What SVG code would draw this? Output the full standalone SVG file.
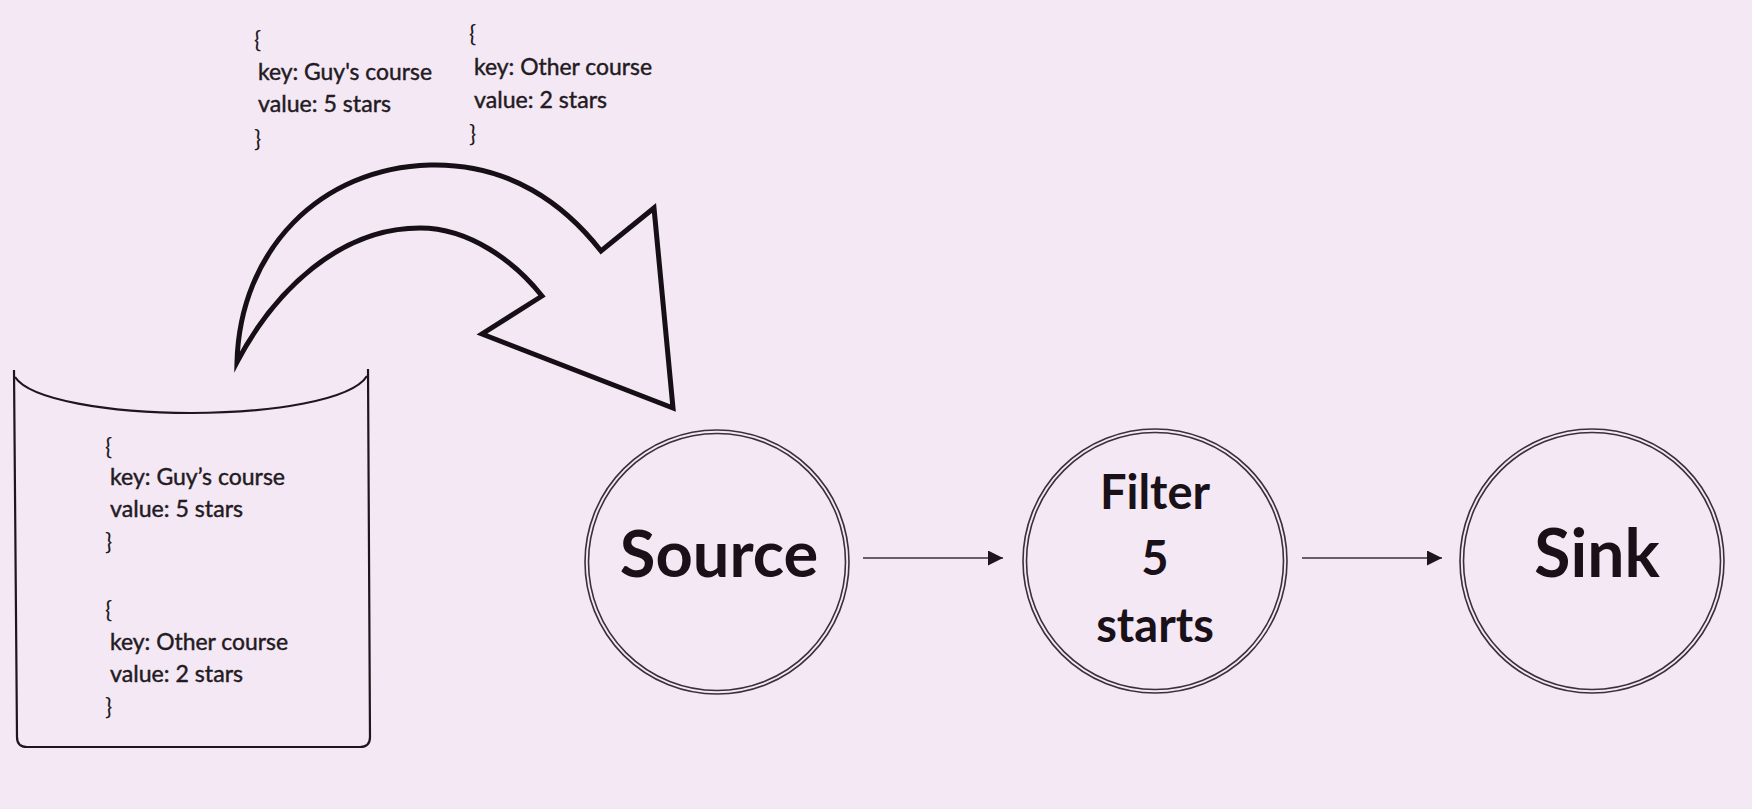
<svg xmlns="http://www.w3.org/2000/svg" width="1752" height="809" viewBox="0 0 1752 809">
  <style>
    .bg { fill: #f3e8f4; }
    .ring { fill: none; stroke: #3a3038; stroke-width: 1.6; }
    .node-label { font-family: Lato, "Open Sans", sans-serif; font-weight: 700; fill: #1a1018; text-anchor: middle; }
    .rec { font-family: Lato, "Open Sans", sans-serif; font-size: 24px; fill: #231a22; stroke: #231a22; stroke-width: 0.45; }
    .brace { font-family: Lato, "Open Sans", sans-serif; font-size: 24px; fill: #231a22; }
    .edge { stroke: #3a3038; stroke-width: 1.5; fill: none; }
    .shape { fill: none; stroke: #1e161d; stroke-width: 2.2; stroke-linejoin: round; }
  </style>
  <defs>
    <marker id="ah" viewBox="0 0 10 10" refX="10" refY="5" markerUnits="userSpaceOnUse" markerWidth="16" markerHeight="15" orient="auto">
      <path d="M0,0 L10,5 L0,10 z" fill="#1e161d"/>
    </marker>
  </defs>
  <rect class="bg" x="0" y="0" width="1752" height="809"/>

  <g id="record-1">
    <text class="brace" x="254" y="48">{</text>
    <text class="rec" x="258" y="80" textLength="174" lengthAdjust="spacingAndGlyphs">key: Guy's course</text>
    <text class="rec" x="258" y="112" textLength="133" lengthAdjust="spacingAndGlyphs">value: 5 stars</text>
    <text class="brace" x="254" y="147">}</text>
  </g>
  <g id="record-2">
    <text class="brace" x="469" y="42">{</text>
    <text class="rec" x="474" y="75" textLength="178" lengthAdjust="spacingAndGlyphs">key: Other course</text>
    <text class="rec" x="474" y="108" textLength="133" lengthAdjust="spacingAndGlyphs">value: 2 stars</text>
    <text class="brace" x="469" y="142">}</text>
  </g>

  <g id="store">
    <path class="shape" d="M14,370 L17,737 Q17,747 27,747 L360,747 Q370,747 370,737 L368,369"/>
    <path class="shape" d="M15,377 C 30,400 110,413 191,413 C 272,413 352,400 367,376"/>
    <text class="brace" x="105" y="455">{</text>
    <text class="rec" x="110" y="485" textLength="175" lengthAdjust="spacingAndGlyphs">key: Guy’s course</text>
    <text class="rec" x="110" y="517" textLength="133" lengthAdjust="spacingAndGlyphs">value: 5 stars</text>
    <text class="brace" x="105" y="550">}</text>
    <text class="brace" x="105" y="618">{</text>
    <text class="rec" x="110" y="650" textLength="178" lengthAdjust="spacingAndGlyphs">key: Other course</text>
    <text class="rec" x="110" y="682" textLength="133" lengthAdjust="spacingAndGlyphs">value: 2 stars</text>
    <text class="brace" x="105" y="715">}</text>
  </g>

  <g id="connectors">
    <path id="flow-arrow" d="M237,362 C 240,250 320,168 430,165 C 510,163 565,205 601,251 L654,208 L673,408 L482,334 L542,296 C 515,262 470,228 420,228 C 340,228 275,290 237,362 Z" fill="none" stroke="#161016" stroke-width="5" stroke-linejoin="miter" stroke-miterlimit="10"/>
    <line class="edge" x1="863" y1="558" x2="1003" y2="558" marker-end="url(#ah)"/>
    <line class="edge" x1="1302" y1="558" x2="1442" y2="558" marker-end="url(#ah)"/>
  </g>

  <g id="source">
    <circle class="ring" cx="717" cy="562" r="132"/>
    <circle class="ring" cx="717" cy="562" r="128.5"/>
    <text class="node-label" x="719" y="577" font-size="65">Source</text>
  </g>
  <g id="filter">
    <circle class="ring" cx="1155" cy="561" r="132"/>
    <circle class="ring" cx="1155" cy="561" r="128.5"/>
    <text class="node-label" x="1155" y="509" font-size="47">Filter</text>
    <text class="node-label" x="1155" y="575" font-size="47">5</text>
    <text class="node-label" x="1155" y="642" font-size="47">starts</text>
  </g>
  <g id="sink">
    <circle class="ring" cx="1592" cy="561" r="132"/>
    <circle class="ring" cx="1592" cy="561" r="128.5"/>
    <text class="node-label" x="1597" y="577" font-size="66">Sink</text>
  </g>
</svg>
